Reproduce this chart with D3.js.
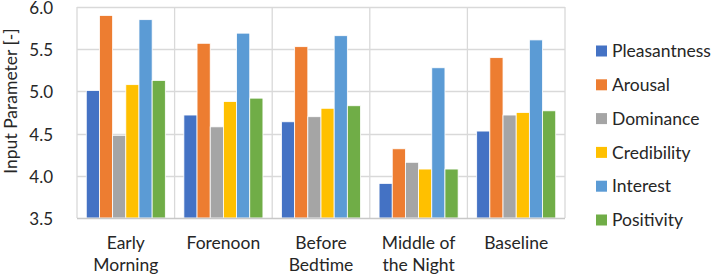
<!DOCTYPE html>
<html lang="en">
<head>
    <meta charset="UTF-8">
    <title>Input Parameter by Time of Day</title>
    <script src="https://d3js.org/d3.v7.min.js"></script>
    <style>
        body { margin: 0; background: #fff; }
        text { font-family: Lato, "Noto Sans", sans-serif; fill: #262626; }
    </style>
</head>
<body>
    <svg width="714" height="278"></svg>

    <script>
        // Categories (two-line labels) and series
        const categories = ["Early Morning", "Forenoon", "Before Bedtime", "Middle of the Night", "Baseline"];
        const categoryLines = [["Early", "Morning"], ["Forenoon"], ["Before", "Bedtime"], ["Middle of", "the Night"], ["Baseline"]];
        const seriesNames = ["Pleasantness", "Arousal", "Dominance", "Credibility", "Interest", "Positivity"];
        const seriesColors = ["#4472C4", "#ED7D31", "#A5A5A5", "#FFC000", "#5B9BD5", "#70AD47"];

        const pleasantness = [5.01, 4.72, 4.64, 3.91, 4.53];
        const arousal      = [5.90, 5.57, 5.53, 4.32, 5.40];
        const dominance    = [4.48, 4.58, 4.70, 4.16, 4.72];
        const credibility  = [5.08, 4.88, 4.80, 4.08, 4.75];
        const interest     = [5.85, 5.69, 5.66, 5.28, 5.61];
        const positivity   = [5.13, 4.92, 4.83, 4.08, 4.77];

        const yTicks = [3.5, 4.0, 4.5, 5.0, 5.5, 6.0];

        const seriesValues = [pleasantness, arousal, dominance, credibility, interest, positivity];

        const margin = { top: 7, left: 77, right: 149, bottom: 60 };
        const width = 714 - margin.left - margin.right;
        const height = 278 - margin.top - margin.bottom;

        const svg = d3.select("svg");
        const g = svg.append("g")
            .attr("transform", `translate(${margin.left},${margin.top})`);

        const x0 = d3.scaleBand()
            .domain(categories)
            .range([0, width])
            .paddingInner(0.19)
            .paddingOuter(0.095);

        const x1 = d3.scaleBand()
            .domain(seriesNames)
            .range([0, x0.bandwidth()])
            .padding(0);

        const y = d3.scaleLinear()
            .domain([3.5, 6.0])
            .range([height, 0]);

        // horizontal gridlines
        g.append("g")
            .selectAll("line")
            .data(yTicks.filter(t => t > 3.5))
            .join("line")
            .attr("x1", 0)
            .attr("x2", width)
            .attr("y1", d => Math.round(y(d)) + 0.5)
            .attr("y2", d => Math.round(y(d)) + 0.5)
            .attr("stroke", "#d9d9d9")
            .attr("stroke-width", 1.3);

        // vertical category separators
        const step = width / categories.length;
        g.append("g")
            .selectAll("line")
            .data(d3.range(categories.length + 1))
            .join("line")
            .attr("x1", i => i * step)
            .attr("x2", i => i * step)
            .attr("y1", 0)
            .attr("y2", height)
            .attr("stroke", "#d9d9d9")
            .attr("stroke-width", 1.3);

        // bars
        const groups = g.append("g")
            .selectAll("g")
            .data(categories)
            .join("g")
            .attr("transform", d => `translate(${x0(d)},0)`);

        groups.selectAll("rect")
            .data((c, ci) => seriesNames.map((s, si) => ({ s, si, v: seriesValues[si][ci] })))
            .join("rect")
            .attr("x", d => x1(d.s))
            .attr("width", x1.bandwidth())
            .attr("y", d => y(d.v))
            .attr("height", d => height - y(d.v))
            .attr("fill", d => seriesColors[d.si])
            .attr("stroke", "#fff")
            .attr("stroke-width", 0.8);

        // x axis line
        g.append("line")
            .attr("x1", 0)
            .attr("x2", width)
            .attr("y1", height + 0.5)
            .attr("y2", height + 0.5)
            .attr("stroke", "#c8c8c8")
            .attr("stroke-width", 1.3);

        // y tick labels
        g.append("g")
            .selectAll("text")
            .data(yTicks)
            .join("text")
            .attr("x", -24)
            .attr("y", d => y(d) + 1)
            .attr("dy", "0.35em")
            .attr("text-anchor", "end")
            .style("font-size", "17px")
            .text(d => d.toFixed(1));

        // category labels
        const catLabels = g.append("g")
            .selectAll("text")
            .data(categories)
            .join("text")
            .attr("x", d => x0(d) + x0.bandwidth() / 2)
            .attr("y", height + 31)
            .attr("text-anchor", "middle")
            .style("font-size", "17.5px");

        catLabels.selectAll("tspan")
            .data((d, i) => categoryLines[i])
            .join("tspan")
            .attr("x", function () { return d3.select(this.parentNode).attr("x"); })
            .attr("dy", (d, i) => i === 0 ? 0 : 22)
            .text(d => d);

        // y axis title
        svg.append("text")
            .attr("transform", "translate(17,101) rotate(-90)")
            .attr("text-anchor", "middle")
            .style("font-size", "17.5px")
            .text("Input Parameter [-]");

        // legend
        const legend = svg.append("g")
            .attr("transform", "translate(596,51)");

        const items = legend.selectAll("g")
            .data(seriesNames)
            .join("g")
            .attr("transform", (d, i) => `translate(0,${i * 33.8})`);

        items.append("rect")
            .attr("x", 0)
            .attr("y", -5.5)
            .attr("width", 11)
            .attr("height", 11)
            .attr("fill", (d, i) => seriesColors[i]);

        items.append("text")
            .attr("x", 16)
            .attr("y", 0)
            .attr("dy", "0.35em")
            .style("font-size", "17.5px")
            .text(d => d);
    </script>
</body>
</html>
